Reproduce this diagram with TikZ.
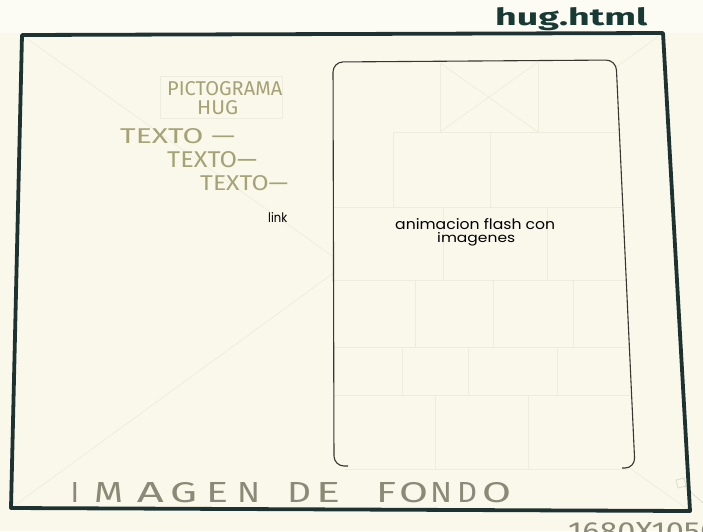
\documentclass[tikz,border=0pt]{standalone}
\usepackage{fontspec}
\usepackage{graphicx}
\newfontfamily\pencil{Fira Sans}
\newfontfamily\fira{Fira Sans}
\newfontfamily\pop{Poppins}
\definecolor{paper}{RGB}{250,248,234}
\definecolor{paperhi}{RGB}{252,252,245}
\definecolor{framecol}{RGB}{30,50,50}
\definecolor{faint}{RGB}{238,236,221}
\definecolor{faintdark}{RGB}{215,213,195}
\definecolor{pencilcol}{RGB}{165,162,118}
\definecolor{pencilgray}{RGB}{138,138,118}
\definecolor{ink}{RGB}{25,58,52}
\definecolor{boxline}{RGB}{55,55,50}
\tikzset{
  faintline/.style={draw=faint, line width=0.7pt},
  txt/.style={inner sep=0pt, anchor=base west},
  pencilltr/.style={inner sep=0pt, anchor=base, text=pencilgray},
}
\begin{document}
\begin{tikzpicture}[x=1pt,y=-1pt]
\useasboundingbox (0,0) rectangle (703,531);
\clip (0,0) rectangle (703,531);
\fill[paper] (0,0) rectangle (703,531);
\fill[paperhi] (0,0) rectangle (703,33);
% frame corners
\coordinate (tl) at (22,35);
\coordinate (tr) at (663,33);
\coordinate (br) at (690,511);
\coordinate (bl) at (11,508);
% faint background X
\draw[faintline] (tl) -- (br);
\draw[faintline] (tr) -- (bl);
% small pencil mark near bottom right
\draw[faintdark, line width=0.6pt] (676,480) -- (684,478) -- (686,486) -- (678,488) -- cycle;
\draw[faintdark, line width=0.6pt] (684,486) -- (703,503);
% faint box around pictogram
\draw[faintline] (160,76) rectangle (282,118);
% animation panel
\fill[paper, rounded corners=10pt] (333,62) -- (616,60) -- (635,468) -- (335,468) -- cycle;
\begin{scope}[faintline]
  \draw (440,63) -- (440,132);
  \draw (538,62) -- (538,132);
  \draw (440,63) -- (538,132);
  \draw (538,62) -- (440,132);
  \draw (393,132) -- (620,132);
  \draw (393,132) -- (393,207);
  \draw (490,132) -- (490,207);
  \draw (334,207) -- (624,207);
  \draw (443,207) -- (443,280);
  \draw (547,207) -- (547,280);
  \draw (334,280) -- (627,280);
  \draw (415,280) -- (415,347);
  \draw (493,280) -- (493,347);
  \draw (573,280) -- (573,347);
  \draw (334,347) -- (630,347);
  \draw (402,347) -- (402,395);
  \draw (468,347) -- (468,395);
  \draw (557,347) -- (557,395);
  \draw (334,395) -- (632,395);
  \draw (435,395) -- (435,469);
  \draw (528,395) -- (528,469);
  \draw (345,469) -- (628,469);
\end{scope}
\draw[boxline, line width=1.1pt, rounded corners=10pt]
  (348,466) -- (334,466) -- (333,62) -- (616,60) -- (635,468) -- (622,468);
% outer frame
\draw[framecol, line width=3.8pt, line join=round] (tl) -- (tr) -- (br) -- (bl) -- cycle;
% texts
\node[txt, text=ink] (hug) at (495,25) {\resizebox{152pt}{18pt}{\fira\bfseries hug.html}};
\node[txt, text=pencilcol] (picto) at (167,95) {\resizebox{115pt}{14pt}{\pencil PICTOGRAMA}};
\node[txt, text=pencilcol] (hugtxt) at (197,114) {\resizebox{41pt}{14pt}{\pencil HUG}};
\node[txt, text=pencilcol] (t1) at (120,143) {\resizebox{115pt}{15pt}{\pencil TEXTO —}};
\node[txt, text=pencilcol] (t2) at (167,167) {\resizebox{90pt}{16pt}{\pencil TEXTO—}};
\node[txt, text=pencilcol] (t3) at (200,190) {\resizebox{88pt}{15pt}{\pencil TEXTO—}};
\node[txt] (link) at (268,222) {\resizebox{19pt}{10pt}{\pop link}};
\node[txt] (anim1) at (395,229) {\resizebox{160pt}{11pt}{\pop animacion flash con}};
\node[txt] (anim2) at (437,242) {\resizebox{78pt}{10pt}{\pop imagenes}};
% IMAGEN DE FONDO
\node[pencilltr] (fI) at (75,502) {\resizebox{!}{20pt}{\pencil I}};
\foreach \l/\cx/\w [count=\i] in {M/108.5/29, A/150.5/27, G/183.5/27, E/217/22, N/248.5/23,
    D/299/24, E/328/24, F/386/20, O/413.5/29, N/441/22, D/467/20, O/496.5/29}
  \node[pencilltr] (f\i) at (\cx,502) {\resizebox{\w pt}{20pt}{\pencil\l}};
\node[txt, text=pencilgray] (res) at (568,540) {\resizebox{150pt}{18pt}{\pencil 1680X1050}};
\end{tikzpicture}
\end{document}
